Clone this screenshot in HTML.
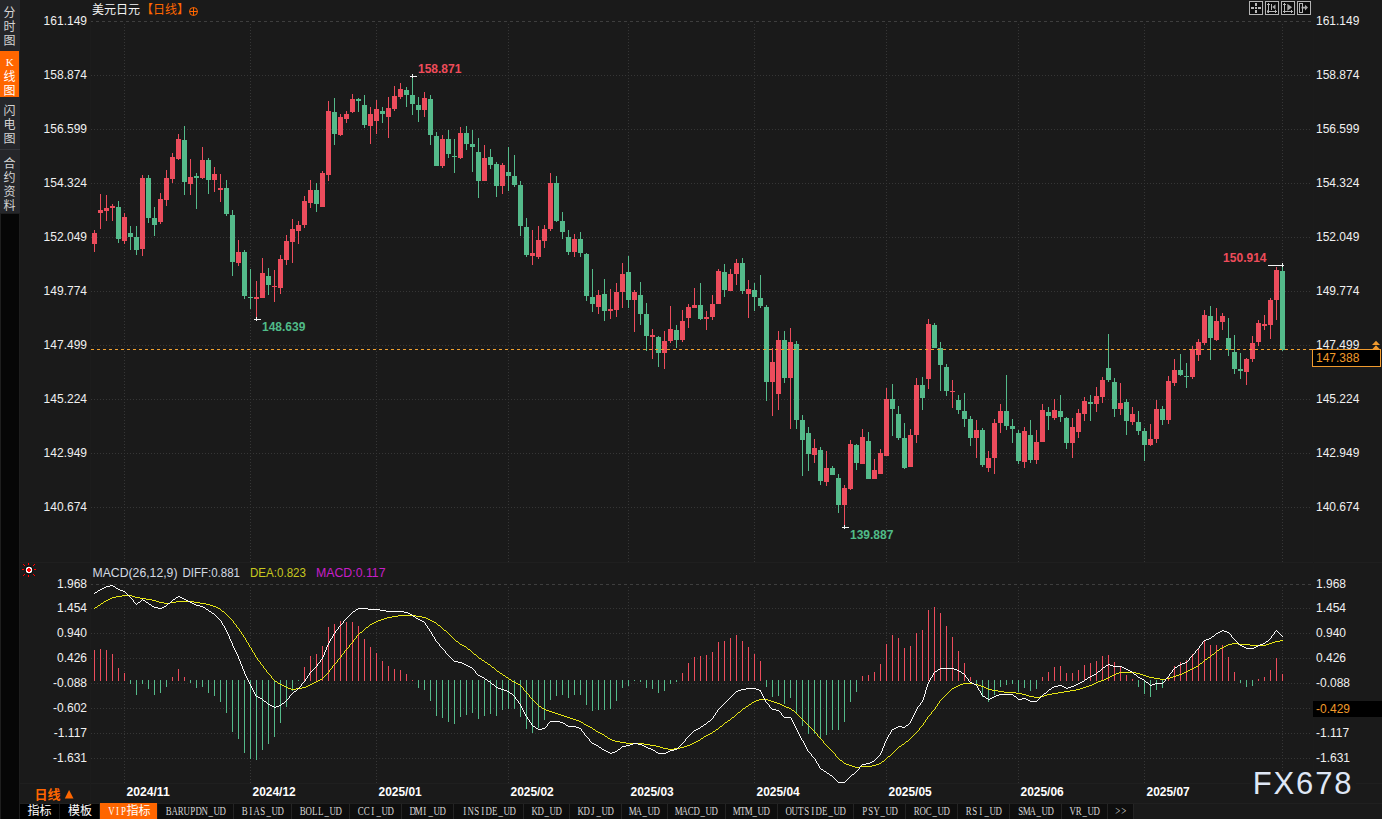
<!DOCTYPE html>
<html><head><meta charset="utf-8"><title>chart</title>
<style>html,body{margin:0;padding:0;background:#1a1a1a;}body{width:1382px;height:819px;overflow:hidden;font-family:"Liberation Sans",sans-serif;}</style>
</head><body>
<svg width="1382" height="819" viewBox="0 0 1382 819" style="display:block"><rect width="1382" height="819" fill="#1a1a1a"/><g shape-rendering="crispEdges"><rect x="0" y="0" width="20" height="213" fill="#25262a"/><rect x="0" y="213" width="20" height="606" fill="#1e1e1e"/><rect x="1" y="214" width="18" height="605" fill="#060606"/><rect x="0" y="51" width="19" height="46" fill="#ff6600"/><rect x="0" y="149" width="20" height="1" fill="#34353a"/></g><g font-size="12" fill="#d4d4d4" text-anchor="middle" style="font-family:&quot;Liberation Sans&quot;,&quot;Noto Sans CJK SC&quot;,sans-serif"><text x="9.5" y="17">分</text><text x="9.5" y="31">时</text><text x="9.5" y="45">图</text></g><g font-size="12" fill="#ffffff" text-anchor="middle" style="font-family:&quot;Liberation Sans&quot;,&quot;Noto Sans CJK SC&quot;,sans-serif"><text x="9.5" y="80.5">线</text><text x="9.5" y="94.5">图</text></g><text x="9.7" y="66" font-size="11" fill="#ffffff" text-anchor="middle" font-weight="normal" style="font-family:&quot;Liberation Serif&quot;" >K</text><g font-size="12" fill="#d4d4d4" text-anchor="middle" style="font-family:&quot;Liberation Sans&quot;,&quot;Noto Sans CJK SC&quot;,sans-serif"><text x="9.5" y="115">闪</text><text x="9.5" y="129">电</text><text x="9.5" y="143">图</text></g><g font-size="12" fill="#d4d4d4" text-anchor="middle" style="font-family:&quot;Liberation Sans&quot;,&quot;Noto Sans CJK SC&quot;,sans-serif"><text x="9.5" y="167.5">合</text><text x="9.5" y="181.5">约</text><text x="9.5" y="195.5">资</text><text x="9.5" y="209.5">料</text></g><text x="92" y="14" font-size="12" fill="#f4f4f4" text-anchor="start" style="font-family:&quot;Liberation Sans&quot;,&quot;Noto Sans CJK SC&quot;,sans-serif">美元日元</text><text x="141" y="14" font-size="12" fill="#ff6600" text-anchor="start" style="font-family:&quot;Liberation Sans&quot;,&quot;Noto Sans CJK SC&quot;,sans-serif">【日线】</text><g stroke="#ff6600" stroke-width="1" fill="none"><circle cx="193.5" cy="11.5" r="4"/><path d="M189.5 11.5H197.5M193.5 7.5V15.5"/></g><g stroke="#363636" stroke-width="1" shape-rendering="crispEdges" fill="none"><path stroke="#3e3e3e" stroke-dasharray="3 3" stroke-dashoffset="1" d="M91 21.5H1311"/><path stroke-dasharray="1 2" d="M91 75.5H1311"/><path stroke-dasharray="1 2" d="M91 129.5H1311"/><path stroke-dasharray="1 2" d="M91 183.5H1311"/><path stroke-dasharray="1 2" d="M91 237.5H1311"/><path stroke-dasharray="1 2" d="M91 291.5H1311"/><path stroke-dasharray="1 2" d="M91 345.5H1311"/><path stroke-dasharray="1 2" d="M91 399.5H1311"/><path stroke-dasharray="1 2" d="M91 453.5H1311"/><path stroke-dasharray="1 2" d="M91 507.5H1311"/><path stroke-dasharray="1 2" d="M124.5 24V562"/><path stroke-dasharray="1 2" d="M124.5 587V783"/><path stroke-dasharray="1 2" d="M250.5 24V562"/><path stroke-dasharray="1 2" d="M250.5 587V783"/><path stroke-dasharray="1 2" d="M376.5 24V562"/><path stroke-dasharray="1 2" d="M376.5 587V783"/><path stroke-dasharray="1 2" d="M508.5 24V562"/><path stroke-dasharray="1 2" d="M508.5 587V783"/><path stroke-dasharray="1 2" d="M628.5 24V562"/><path stroke-dasharray="1 2" d="M628.5 587V783"/><path stroke-dasharray="1 2" d="M754.5 24V562"/><path stroke-dasharray="1 2" d="M754.5 587V783"/><path stroke-dasharray="1 2" d="M886.5 24V562"/><path stroke-dasharray="1 2" d="M886.5 587V783"/><path stroke-dasharray="1 2" d="M1018.5 24V562"/><path stroke-dasharray="1 2" d="M1018.5 587V783"/><path stroke-dasharray="1 2" d="M1144.5 24V562"/><path stroke-dasharray="1 2" d="M1144.5 587V783"/><path stroke-dasharray="1 2" d="M1282.5 24V562"/><path stroke-dasharray="1 2" d="M1282.5 587V783"/><path stroke="#3e3e3e" stroke-dasharray="3 3" stroke-dashoffset="1" d="M91 584.5H1311"/><path stroke-dasharray="1 2" d="M91 608.5H1311"/><path stroke-dasharray="1 2" d="M91 633.5H1311"/><path stroke-dasharray="1 2" d="M91 658.5H1311"/><path stroke-dasharray="1 2" d="M91 683.5H1311"/><path stroke-dasharray="1 2" d="M91 708.5H1311"/><path stroke-dasharray="1 2" d="M91 733.5H1311"/><path stroke-dasharray="1 2" d="M91 758.5H1311"/></g><g shape-rendering="crispEdges" fill="#1f1f1f"><rect x="20" y="562" width="1362" height="1"/><rect x="20" y="783" width="1362" height="1"/><rect x="90" y="0" width="1" height="803" fill="#1c1c1c"/><rect x="1313" y="0" width="1" height="803" fill="#1b1b1b"/></g><text x="87" y="25.0" font-size="12" fill="#f0f0f0" text-anchor="end" font-weight="normal" style="font-family:&quot;Liberation Sans&quot;" >161.149</text><text x="1316" y="25.0" font-size="12" fill="#f0f0f0" text-anchor="start" font-weight="normal" style="font-family:&quot;Liberation Sans&quot;" >161.149</text><text x="87" y="79.0" font-size="12" fill="#f0f0f0" text-anchor="end" font-weight="normal" style="font-family:&quot;Liberation Sans&quot;" >158.874</text><text x="1316" y="79.0" font-size="12" fill="#f0f0f0" text-anchor="start" font-weight="normal" style="font-family:&quot;Liberation Sans&quot;" >158.874</text><text x="87" y="133.0" font-size="12" fill="#f0f0f0" text-anchor="end" font-weight="normal" style="font-family:&quot;Liberation Sans&quot;" >156.599</text><text x="1316" y="133.0" font-size="12" fill="#f0f0f0" text-anchor="start" font-weight="normal" style="font-family:&quot;Liberation Sans&quot;" >156.599</text><text x="87" y="187.0" font-size="12" fill="#f0f0f0" text-anchor="end" font-weight="normal" style="font-family:&quot;Liberation Sans&quot;" >154.324</text><text x="1316" y="187.0" font-size="12" fill="#f0f0f0" text-anchor="start" font-weight="normal" style="font-family:&quot;Liberation Sans&quot;" >154.324</text><text x="87" y="241.0" font-size="12" fill="#f0f0f0" text-anchor="end" font-weight="normal" style="font-family:&quot;Liberation Sans&quot;" >152.049</text><text x="1316" y="241.0" font-size="12" fill="#f0f0f0" text-anchor="start" font-weight="normal" style="font-family:&quot;Liberation Sans&quot;" >152.049</text><text x="87" y="295.0" font-size="12" fill="#f0f0f0" text-anchor="end" font-weight="normal" style="font-family:&quot;Liberation Sans&quot;" >149.774</text><text x="1316" y="295.0" font-size="12" fill="#f0f0f0" text-anchor="start" font-weight="normal" style="font-family:&quot;Liberation Sans&quot;" >149.774</text><text x="87" y="349.0" font-size="12" fill="#f0f0f0" text-anchor="end" font-weight="normal" style="font-family:&quot;Liberation Sans&quot;" >147.499</text><text x="1316" y="349.0" font-size="12" fill="#f0f0f0" text-anchor="start" font-weight="normal" style="font-family:&quot;Liberation Sans&quot;" >147.499</text><text x="87" y="403.0" font-size="12" fill="#f0f0f0" text-anchor="end" font-weight="normal" style="font-family:&quot;Liberation Sans&quot;" >145.224</text><text x="1316" y="403.0" font-size="12" fill="#f0f0f0" text-anchor="start" font-weight="normal" style="font-family:&quot;Liberation Sans&quot;" >145.224</text><text x="87" y="457.0" font-size="12" fill="#f0f0f0" text-anchor="end" font-weight="normal" style="font-family:&quot;Liberation Sans&quot;" >142.949</text><text x="1316" y="457.0" font-size="12" fill="#f0f0f0" text-anchor="start" font-weight="normal" style="font-family:&quot;Liberation Sans&quot;" >142.949</text><text x="87" y="511.0" font-size="12" fill="#f0f0f0" text-anchor="end" font-weight="normal" style="font-family:&quot;Liberation Sans&quot;" >140.674</text><text x="1316" y="511.0" font-size="12" fill="#f0f0f0" text-anchor="start" font-weight="normal" style="font-family:&quot;Liberation Sans&quot;" >140.674</text><text x="87" y="588.1" font-size="12" fill="#f0f0f0" text-anchor="end" font-weight="normal" style="font-family:&quot;Liberation Sans&quot;" >1.968</text><text x="1316" y="588.1" font-size="12" fill="#f0f0f0" text-anchor="start" font-weight="normal" style="font-family:&quot;Liberation Sans&quot;" >1.968</text><text x="87" y="612.1" font-size="12" fill="#f0f0f0" text-anchor="end" font-weight="normal" style="font-family:&quot;Liberation Sans&quot;" >1.454</text><text x="1316" y="612.1" font-size="12" fill="#f0f0f0" text-anchor="start" font-weight="normal" style="font-family:&quot;Liberation Sans&quot;" >1.454</text><text x="87" y="637.1" font-size="12" fill="#f0f0f0" text-anchor="end" font-weight="normal" style="font-family:&quot;Liberation Sans&quot;" >0.940</text><text x="1316" y="637.1" font-size="12" fill="#f0f0f0" text-anchor="start" font-weight="normal" style="font-family:&quot;Liberation Sans&quot;" >0.940</text><text x="87" y="662.1" font-size="12" fill="#f0f0f0" text-anchor="end" font-weight="normal" style="font-family:&quot;Liberation Sans&quot;" >0.426</text><text x="1316" y="662.1" font-size="12" fill="#f0f0f0" text-anchor="start" font-weight="normal" style="font-family:&quot;Liberation Sans&quot;" >0.426</text><text x="87" y="687.1" font-size="12" fill="#f0f0f0" text-anchor="end" font-weight="normal" style="font-family:&quot;Liberation Sans&quot;" >-0.088</text><text x="1316" y="687.1" font-size="12" fill="#f0f0f0" text-anchor="start" font-weight="normal" style="font-family:&quot;Liberation Sans&quot;" >-0.088</text><text x="87" y="712.1" font-size="12" fill="#f0f0f0" text-anchor="end" font-weight="normal" style="font-family:&quot;Liberation Sans&quot;" >-0.602</text><text x="87" y="737.1" font-size="12" fill="#f0f0f0" text-anchor="end" font-weight="normal" style="font-family:&quot;Liberation Sans&quot;" >-1.117</text><text x="1316" y="737.1" font-size="12" fill="#f0f0f0" text-anchor="start" font-weight="normal" style="font-family:&quot;Liberation Sans&quot;" >-1.117</text><text x="87" y="762.1" font-size="12" fill="#f0f0f0" text-anchor="end" font-weight="normal" style="font-family:&quot;Liberation Sans&quot;" >-1.631</text><text x="1316" y="762.1" font-size="12" fill="#f0f0f0" text-anchor="start" font-weight="normal" style="font-family:&quot;Liberation Sans&quot;" >-1.631</text><g shape-rendering="crispEdges"><path fill="#ec4c5c" d="M94 230h1v22h-1zM100 194h1v35h-1zM106 195h1v26h-1zM112 204h1v17h-1zM124 213h1v31h-1zM142 175h1v81h-1zM160 193h1v31h-1zM166 170h1v36h-1zM172 153h1v30h-1zM178 134h1v26h-1zM190 159h1v36h-1zM202 147h1v32h-1zM214 167h1v25h-1zM220 174h1v28h-1zM238 240h1v26h-1zM256 281h1v36h-1zM262 258h1v40h-1zM274 270h1v32h-1zM280 255h1v39h-1zM286 235h1v30h-1zM292 219h1v44h-1zM298 221h1v23h-1zM304 196h1v32h-1zM310 180h1v28h-1zM322 171h1v36h-1zM328 101h1v80h-1zM340 114h1v22h-1zM346 111h1v12h-1zM352 94h1v19h-1zM370 107h1v37h-1zM376 100h1v34h-1zM388 97h1v41h-1zM394 86h1v25h-1zM400 83h1v16h-1zM424 92h1v25h-1zM442 135h1v33h-1zM460 127h1v32h-1zM484 145h1v36h-1zM502 163h1v31h-1zM532 230h1v35h-1zM538 226h1v33h-1zM544 225h1v23h-1zM550 173h1v58h-1zM574 234h1v23h-1zM598 290h1v24h-1zM610 289h1v30h-1zM616 283h1v34h-1zM622 263h1v45h-1zM634 290h1v42h-1zM652 329h1v30h-1zM664 331h1v38h-1zM670 306h1v37h-1zM682 310h1v32h-1zM688 304h1v24h-1zM694 288h1v20h-1zM706 311h1v19h-1zM712 295h1v25h-1zM718 269h1v35h-1zM730 269h1v22h-1zM736 259h1v26h-1zM748 280h1v38h-1zM772 348h1v68h-1zM778 331h1v79h-1zM790 328h1v101h-1zM814 439h1v24h-1zM826 451h1v35h-1zM844 485h1v40h-1zM850 440h1v50h-1zM862 429h1v35h-1zM874 459h1v20h-1zM880 449h1v25h-1zM886 388h1v68h-1zM910 429h1v38h-1zM916 378h1v65h-1zM928 319h1v70h-1zM952 380h1v28h-1zM976 420h1v38h-1zM988 451h1v21h-1zM994 419h1v55h-1zM1000 404h1v29h-1zM1024 427h1v41h-1zM1036 430h1v34h-1zM1042 404h1v38h-1zM1054 399h1v21h-1zM1072 418h1v40h-1zM1078 409h1v29h-1zM1084 397h1v24h-1zM1096 387h1v25h-1zM1102 377h1v26h-1zM1120 383h1v32h-1zM1132 407h1v18h-1zM1150 424h1v22h-1zM1156 400h1v43h-1zM1168 376h1v48h-1zM1174 359h1v27h-1zM1192 346h1v33h-1zM1198 339h1v22h-1zM1204 310h1v35h-1zM1216 308h1v33h-1zM1222 313h1v17h-1zM1246 358h1v27h-1zM1252 336h1v26h-1zM1258 320h1v26h-1zM1264 315h1v15h-1zM1270 298h1v41h-1zM1276 267h1v53h-1zM92 233h5v11h-5zM98 210h5v3h-5zM104 208h5v3h-5zM110 206h5v2h-5zM122 217h5v24h-5zM140 178h5v71h-5zM158 199h5v23h-5zM164 178h5v22h-5zM170 157h5v22h-5zM176 139h5v20h-5zM188 177h5v7h-5zM200 160h5v18h-5zM212 174h5v6h-5zM218 188h5v2h-5zM236 252h5v11h-5zM254 297h5v2h-5zM260 273h5v25h-5zM272 286h5v1h-5zM278 259h5v29h-5zM284 241h5v19h-5zM290 229h5v13h-5zM296 225h5v6h-5zM302 201h5v24h-5zM308 190h5v13h-5zM320 173h5v34h-5zM326 111h5v64h-5zM338 117h5v18h-5zM344 114h5v5h-5zM350 99h5v13h-5zM368 114h5v12h-5zM374 109h5v12h-5zM386 108h5v9h-5zM392 96h5v13h-5zM398 89h5v8h-5zM422 98h5v12h-5zM440 139h5v27h-5zM458 133h5v25h-5zM482 158h5v23h-5zM500 165h5v21h-5zM530 253h5v3h-5zM536 240h5v17h-5zM542 229h5v12h-5zM548 183h5v46h-5zM572 239h5v13h-5zM596 295h5v12h-5zM608 309h5v2h-5zM614 292h5v18h-5zM620 274h5v18h-5zM632 292h5v8h-5zM650 335h5v2h-5zM662 341h5v12h-5zM668 329h5v12h-5zM680 321h5v19h-5zM686 307h5v11h-5zM692 305h5v3h-5zM704 317h5v2h-5zM710 304h5v13h-5zM716 271h5v33h-5zM728 274h5v17h-5zM734 263h5v11h-5zM746 289h5v5h-5zM770 362h5v20h-5zM776 340h5v54h-5zM788 342h5v36h-5zM812 448h5v7h-5zM824 468h5v14h-5zM842 488h5v17h-5zM848 444h5v45h-5zM860 437h5v27h-5zM872 470h5v9h-5zM878 453h5v21h-5zM884 399h5v57h-5zM908 435h5v32h-5zM914 385h5v50h-5zM926 324h5v55h-5zM950 391h5v1h-5zM974 430h5v8h-5zM986 458h5v10h-5zM992 423h5v35h-5zM998 411h5v12h-5zM1022 431h5v31h-5zM1034 442h5v18h-5zM1040 410h5v32h-5zM1052 410h5v8h-5zM1070 427h5v16h-5zM1076 413h5v19h-5zM1082 401h5v13h-5zM1094 396h5v8h-5zM1100 380h5v17h-5zM1118 403h5v6h-5zM1130 414h5v8h-5zM1148 439h5v6h-5zM1154 409h5v30h-5zM1166 381h5v39h-5zM1172 370h5v13h-5zM1190 349h5v28h-5zM1196 342h5v13h-5zM1202 315h5v28h-5zM1214 321h5v19h-5zM1220 316h5v6h-5zM1244 359h5v13h-5zM1250 343h5v16h-5zM1256 323h5v19h-5zM1262 324h5v2h-5zM1268 300h5v25h-5zM1274 270h5v30h-5z"/><path fill="#54ba8a" d="M118 201h1v42h-1zM130 226h1v24h-1zM136 226h1v29h-1zM148 175h1v48h-1zM154 207h1v29h-1zM184 126h1v69h-1zM196 173h1v36h-1zM208 158h1v36h-1zM226 180h1v36h-1zM232 210h1v66h-1zM244 250h1v49h-1zM250 269h1v40h-1zM268 268h1v27h-1zM316 183h1v29h-1zM334 98h1v47h-1zM358 98h1v14h-1zM364 95h1v33h-1zM382 107h1v16h-1zM406 87h1v20h-1zM412 78h1v37h-1zM418 97h1v25h-1zM430 95h1v50h-1zM436 132h1v34h-1zM448 130h1v28h-1zM454 139h1v34h-1zM466 126h1v24h-1zM472 130h1v42h-1zM478 138h1v60h-1zM490 149h1v20h-1zM496 162h1v35h-1zM508 147h1v44h-1zM514 155h1v32h-1zM520 181h1v55h-1zM526 218h1v39h-1zM556 176h1v46h-1zM562 212h1v27h-1zM568 230h1v25h-1zM580 232h1v25h-1zM586 253h1v48h-1zM592 269h1v43h-1zM604 279h1v42h-1zM628 256h1v52h-1zM640 282h1v43h-1zM646 303h1v48h-1zM658 336h1v31h-1zM676 325h1v23h-1zM700 283h1v37h-1zM724 264h1v33h-1zM742 258h1v36h-1zM754 283h1v28h-1zM760 275h1v33h-1zM766 305h1v96h-1zM784 331h1v52h-1zM796 341h1v88h-1zM802 415h1v61h-1zM808 427h1v44h-1zM820 447h1v38h-1zM832 466h1v9h-1zM838 474h1v39h-1zM856 444h1v26h-1zM868 432h1v47h-1zM892 384h1v52h-1zM898 406h1v34h-1zM904 423h1v46h-1zM922 377h1v33h-1zM934 323h1v25h-1zM940 342h1v49h-1zM946 364h1v32h-1zM958 395h1v19h-1zM964 393h1v34h-1zM970 416h1v30h-1zM982 428h1v39h-1zM1006 375h1v55h-1zM1012 419h1v24h-1zM1018 430h1v34h-1zM1030 420h1v43h-1zM1048 407h1v23h-1zM1060 395h1v27h-1zM1066 417h1v32h-1zM1090 395h1v26h-1zM1108 334h1v48h-1zM1114 378h1v39h-1zM1126 399h1v36h-1zM1138 411h1v24h-1zM1144 428h1v33h-1zM1162 406h1v19h-1zM1180 354h1v22h-1zM1186 363h1v25h-1zM1210 306h1v54h-1zM1228 318h1v38h-1zM1234 335h1v39h-1zM1240 353h1v26h-1zM1282 267h1v84h-1zM116 207h5v32h-5zM128 233h5v4h-5zM134 237h5v13h-5zM146 178h5v40h-5zM152 218h5v7h-5zM182 140h5v42h-5zM194 176h5v2h-5zM206 160h5v20h-5zM224 188h5v26h-5zM230 215h5v47h-5zM242 252h5v44h-5zM248 297h5v1h-5zM266 276h5v9h-5zM314 190h5v14h-5zM332 112h5v22h-5zM356 99h5v2h-5zM362 105h5v20h-5zM380 111h5v3h-5zM404 90h5v5h-5zM410 95h5v9h-5zM416 105h5v5h-5zM428 99h5v36h-5zM434 136h5v30h-5zM446 139h5v15h-5zM452 156h5v1h-5zM464 133h5v11h-5zM470 144h5v3h-5zM476 152h5v29h-5zM488 157h5v8h-5zM494 164h5v22h-5zM506 172h5v4h-5zM512 176h5v9h-5zM518 185h5v41h-5zM524 227h5v28h-5zM554 183h5v38h-5zM560 221h5v11h-5zM566 237h5v15h-5zM578 239h5v14h-5zM584 254h5v42h-5zM590 297h5v7h-5zM602 294h5v17h-5zM626 272h5v28h-5zM638 295h5v19h-5zM644 314h5v22h-5zM656 337h5v16h-5zM674 330h5v10h-5zM698 305h5v14h-5zM722 272h5v18h-5zM740 263h5v28h-5zM752 290h5v7h-5zM758 298h5v8h-5zM764 307h5v75h-5zM782 340h5v38h-5zM794 344h5v76h-5zM800 420h5v20h-5zM806 433h5v21h-5zM818 450h5v31h-5zM830 468h5v7h-5zM836 478h5v27h-5zM854 445h5v18h-5zM866 441h5v38h-5zM890 399h5v10h-5zM896 414h5v24h-5zM902 438h5v30h-5zM920 385h5v13h-5zM932 325h5v23h-5zM938 348h5v17h-5zM944 367h5v24h-5zM956 400h5v10h-5zM962 411h5v8h-5zM968 419h5v19h-5zM980 430h5v35h-5zM1004 411h5v15h-5zM1010 426h5v3h-5zM1016 433h5v28h-5zM1028 435h5v25h-5zM1046 412h5v4h-5zM1058 411h5v6h-5zM1064 418h5v25h-5zM1088 402h5v2h-5zM1106 368h5v12h-5zM1112 382h5v27h-5zM1124 402h5v19h-5zM1136 422h5v9h-5zM1142 431h5v14h-5zM1160 409h5v11h-5zM1178 370h5v5h-5zM1184 376h5v1h-5zM1208 316h5v22h-5zM1226 338h5v12h-5zM1232 352h5v17h-5zM1238 369h5v2h-5zM1280 271h5v79h-5z"/></g><g shape-rendering="crispEdges" fill="#f4f4f4"><rect x="410" y="76" width="7" height="1"/><rect x="412" y="74" width="1" height="4"/><rect x="254" y="319" width="7" height="1"/><rect x="256" y="317" width="1" height="4"/><rect x="842" y="527" width="7" height="1"/><rect x="844" y="525" width="1" height="4"/><rect x="1268" y="265" width="16" height="1"/><rect x="1282" y="263" width="1" height="4"/></g><text x="418" y="73" font-size="12" fill="#ee4c5a" text-anchor="start" font-weight="bold" style="font-family:&quot;Liberation Sans&quot;" >158.871</text><text x="262" y="330.7" font-size="12" fill="#50bc88" text-anchor="start" font-weight="bold" style="font-family:&quot;Liberation Sans&quot;" >148.639</text><text x="850" y="538.7" font-size="12" fill="#50bc88" text-anchor="start" font-weight="bold" style="font-family:&quot;Liberation Sans&quot;" >139.887</text><text x="1266.5" y="262" font-size="12" fill="#ee4c5a" text-anchor="end" font-weight="bold" style="font-family:&quot;Liberation Sans&quot;" >150.914</text><g shape-rendering="crispEdges"><path stroke="#f0a030" stroke-width="1" stroke-dasharray="3 3" fill="none" d="M91 349.5H1312"/><rect x="1312.5" y="349.5" width="68" height="17" fill="#000000" stroke="#f09a2e" stroke-width="1"/></g><text x="1316" y="361.7" font-size="12" fill="#f09a2a" text-anchor="start" font-weight="normal" style="font-family:&quot;Liberation Sans&quot;" >147.388</text><path fill="#f09a2e" d="M1372 349.5 L1376 345.3 L1380 349.5z M1372 345 L1376 340.8 L1380 345z"/><g shape-rendering="crispEdges"><path fill="#ec4c5c" d="M94 650h1v31h-1zM100 649h1v32h-1zM106 650h1v31h-1zM112 654h1v27h-1zM118 668h1v13h-1zM124 673h1v8h-1zM172 677h1v4h-1zM178 669h1v12h-1zM184 677h1v4h-1zM304 667h1v14h-1zM310 656h1v25h-1zM316 654h1v27h-1zM322 646h1v35h-1zM328 627h1v54h-1zM334 624h1v57h-1zM340 621h1v60h-1zM346 622h1v59h-1zM352 622h1v59h-1zM358 626h1v55h-1zM364 639h1v42h-1zM370 647h1v34h-1zM376 653h1v28h-1zM382 661h1v20h-1zM388 666h1v15h-1zM394 669h1v12h-1zM400 670h1v11h-1zM406 674h1v7h-1zM412 680h1v1h-1zM682 673h1v8h-1zM688 663h1v18h-1zM694 657h1v24h-1zM700 656h1v25h-1zM706 655h1v26h-1zM712 652h1v29h-1zM718 642h1v39h-1zM724 641h1v40h-1zM730 638h1v43h-1zM736 635h1v46h-1zM742 641h1v40h-1zM748 647h1v34h-1zM754 654h1v27h-1zM760 661h1v20h-1zM862 676h1v5h-1zM868 675h1v6h-1zM874 672h1v9h-1zM880 664h1v17h-1zM886 644h1v37h-1zM892 635h1v46h-1zM898 638h1v43h-1zM904 648h1v33h-1zM910 646h1v35h-1zM916 633h1v48h-1zM922 630h1v51h-1zM928 610h1v71h-1zM934 607h1v74h-1zM940 613h1v68h-1zM946 626h1v55h-1zM952 637h1v44h-1zM958 651h1v30h-1zM964 663h1v18h-1zM970 677h1v4h-1zM1042 677h1v4h-1zM1048 672h1v9h-1zM1054 667h1v14h-1zM1060 666h1v15h-1zM1066 673h1v8h-1zM1072 673h1v8h-1zM1078 670h1v11h-1zM1084 665h1v16h-1zM1090 663h1v18h-1zM1096 661h1v20h-1zM1102 656h1v25h-1zM1108 655h1v26h-1zM1114 662h1v19h-1zM1120 667h1v14h-1zM1126 675h1v6h-1zM1132 679h1v2h-1zM1168 677h1v4h-1zM1174 666h1v15h-1zM1180 662h1v19h-1zM1186 660h1v21h-1zM1192 654h1v27h-1zM1198 649h1v32h-1zM1204 641h1v40h-1zM1210 645h1v36h-1zM1216 645h1v36h-1zM1222 645h1v36h-1zM1228 657h1v24h-1zM1234 672h1v9h-1zM1258 679h1v2h-1zM1264 677h1v4h-1zM1270 670h1v11h-1zM1276 658h1v23h-1zM1282 674h1v7h-1z"/><path fill="#54ba8a" d="M130 680h1v4h-1zM136 680h1v15h-1zM142 680h1v4h-1zM148 680h1v9h-1zM154 680h1v15h-1zM160 680h1v13h-1zM166 680h1v7h-1zM190 680h1v3h-1zM196 680h1v8h-1zM202 680h1v7h-1zM208 680h1v13h-1zM214 680h1v16h-1zM220 680h1v22h-1zM226 680h1v33h-1zM232 680h1v52h-1zM238 680h1v59h-1zM244 680h1v73h-1zM250 680h1v79h-1zM256 680h1v80h-1zM262 680h1v70h-1zM268 680h1v64h-1zM274 680h1v57h-1zM280 680h1v43h-1zM286 680h1v27h-1zM292 680h1v11h-1zM298 680h1v1h-1zM418 680h1v8h-1zM424 680h1v10h-1zM430 680h1v21h-1zM436 680h1v36h-1zM442 680h1v38h-1zM448 680h1v42h-1zM454 680h1v44h-1zM460 680h1v37h-1zM466 680h1v35h-1zM472 680h1v33h-1zM478 680h1v39h-1zM484 680h1v36h-1zM490 680h1v34h-1zM496 680h1v36h-1zM502 680h1v30h-1zM508 680h1v29h-1zM514 680h1v29h-1zM520 680h1v37h-1zM526 680h1v49h-1zM532 680h1v53h-1zM538 680h1v48h-1zM544 680h1v40h-1zM550 680h1v20h-1zM556 680h1v16h-1zM562 680h1v15h-1zM568 680h1v18h-1zM574 680h1v15h-1zM580 680h1v15h-1zM586 680h1v25h-1zM592 680h1v31h-1zM598 680h1v30h-1zM604 680h1v30h-1zM610 680h1v29h-1zM616 680h1v21h-1zM622 680h1v8h-1zM628 680h1v6h-1zM634 680h1v1h-1zM640 680h1v2h-1zM646 680h1v8h-1zM652 680h1v9h-1zM658 680h1v13h-1zM664 680h1v11h-1zM670 680h1v4h-1zM676 680h1v2h-1zM766 680h1v7h-1zM772 680h1v17h-1zM778 680h1v16h-1zM784 680h1v24h-1zM790 680h1v18h-1zM796 680h1v33h-1zM802 680h1v46h-1zM808 680h1v54h-1zM814 680h1v54h-1zM820 680h1v58h-1zM826 680h1v55h-1zM832 680h1v50h-1zM838 680h1v50h-1zM844 680h1v42h-1zM850 680h1v22h-1zM856 680h1v12h-1zM976 680h1v4h-1zM982 680h1v17h-1zM988 680h1v22h-1zM994 680h1v15h-1zM1000 680h1v7h-1zM1006 680h1v5h-1zM1012 680h1v4h-1zM1018 680h1v12h-1zM1024 680h1v8h-1zM1030 680h1v11h-1zM1036 680h1v9h-1zM1138 680h1v7h-1zM1144 680h1v14h-1zM1150 680h1v17h-1zM1156 680h1v10h-1zM1162 680h1v8h-1zM1240 680h1v3h-1zM1246 680h1v7h-1zM1252 680h1v6h-1z"/></g><path fill="#e6e614" shape-rendering="crispEdges" d="M474 654h2v1h-2zM1212 654h2v1h-2zM598 732h2v1h-2zM1217 650h2v1h-2zM98 605h2v1h-2zM210 605h3v1h-3zM626 743h18v1h-18zM692 743h2v1h-2zM104 601h2v1h-2zM156 601h3v1h-3zM176 601h18v1h-18zM656 746h4v1h-4zM684 746h3v1h-3zM899 746h2v1h-2zM998 691h6v1h-6zM1064 691h6v1h-6zM378 620h3v1h-3zM430 620h2v1h-2zM280 684h2v1h-2zM310 684h2v1h-2zM518 684h2v1h-2zM960 684h3v1h-3zM974 684h4v1h-4zM1092 684h2v1h-2zM615 741h5v1h-5zM696 741h2v1h-2zM906 741h2v1h-2zM1004 692h12v1h-12zM1058 692h6v1h-6zM1016 693h6v1h-6zM1052 693h6v1h-6zM320 679h2v1h-2zM509 679h2v1h-2zM1104 679h2v1h-2zM1160 679h6v1h-6zM438 625h2v1h-2zM291 689h5v1h-5zM988 689h4v1h-4zM1076 689h4v1h-4zM605 736h2v1h-2zM704 736h2v1h-2zM852 766h3v1h-3zM860 766h12v1h-12zM561 715h3v1h-3zM284 686h2v1h-2zM306 686h2v1h-2zM956 686h2v1h-2zM981 686h3v1h-3zM1086 686h3v1h-3zM503 675h2v1h-2zM1112 675h2v1h-2zM1143 675h3v1h-3zM1176 675h3v1h-3zM1110 676h2v1h-2zM1146 676h3v1h-3zM1173 676h3v1h-3zM376 621h2v1h-2zM432 621h2v1h-2zM482 660h2v1h-2zM206 604h4v1h-4zM777 703h3v1h-3zM608 738h2v1h-2zM701 738h2v1h-2zM855 767h5v1h-5zM286 687h2v1h-2zM302 687h4v1h-4zM954 687h2v1h-2zM984 687h2v1h-2zM1083 687h3v1h-3zM278 683h2v1h-2zM312 683h2v1h-2zM516 683h2v1h-2zM963 683h11v1h-11zM1094 683h2v1h-2zM610 739h2v1h-2zM992 690h6v1h-6zM1070 690h6v1h-6zM460 644h2v1h-2zM1228 644h4v1h-4zM1238 644h12v1h-12zM1266 644h3v1h-3zM1106 678h2v1h-2zM1154 678h6v1h-6zM1166 678h4v1h-4zM1026 695h3v1h-3zM1044 695h3v1h-3zM600 733h2v1h-2zM710 733h2v1h-2zM1119 672h17v1h-17zM1184 672h2v1h-2zM398 615h18v1h-18zM1280 640h3v1h-3zM552 712h3v1h-3zM738 712h2v1h-2zM602 734h2v1h-2zM708 734h2v1h-2zM500 673h2v1h-2zM1116 673h3v1h-3zM1136 673h4v1h-4zM1182 673h2v1h-2zM759 699h9v1h-9zM101 603h2v1h-2zM164 603h6v1h-6zM200 603h6v1h-6zM1029 696h5v1h-5zM1040 696h4v1h-4zM108 599h2v1h-2zM146 599h6v1h-6zM122 595h10v1h-10zM387 617h5v1h-5zM422 617h4v1h-4zM366 627h2v1h-2zM849 765h3v1h-3zM872 765h4v1h-4zM564 716h3v1h-3zM576 720h3v1h-3zM728 720h2v1h-2zM593 729h2v1h-2zM716 729h2v1h-2zM650 745h6v1h-6zM687 745h3v1h-3zM506 677h2v1h-2zM1108 677h2v1h-2zM1149 677h5v1h-5zM1170 677h3v1h-3zM786 707h3v1h-3zM888 756h2v1h-2zM497 671h2v1h-2zM1186 671h2v1h-2zM1022 694h4v1h-4zM1047 694h5v1h-5zM1220 648h2v1h-2zM275 681h2v1h-2zM316 681h2v1h-2zM512 681h2v1h-2zM1098 681h3v1h-3zM542 708h2v1h-2zM743 708h2v1h-2zM789 708h2v1h-2zM1208 657h2v1h-2zM749 704h2v1h-2zM780 704h2v1h-2zM558 714h3v1h-3zM590 727h2v1h-2zM462 645h2v1h-2zM1226 645h2v1h-2zM1250 645h16v1h-16zM663 748h5v1h-5zM674 748h6v1h-6zM213 606h3v1h-3zM620 742h6v1h-6zM694 742h2v1h-2zM644 744h6v1h-6zM690 744h2v1h-2zM902 744h2v1h-2zM596 731h2v1h-2zM713 731h2v1h-2zM1232 643h6v1h-6zM1269 643h3v1h-3zM282 685h2v1h-2zM308 685h2v1h-2zM958 685h2v1h-2zM978 685h3v1h-3zM1089 685h3v1h-3zM488 664h2v1h-2zM1034 697h6v1h-6zM106 600h2v1h-2zM152 600h4v1h-4zM116 596h6v1h-6zM132 596h3v1h-3zM539 706h2v1h-2zM746 706h2v1h-2zM784 706h2v1h-2zM660 747h3v1h-3zM680 747h4v1h-4zM384 618h3v1h-3zM426 618h2v1h-2zM586 725h2v1h-2zM159 602h5v1h-5zM170 602h6v1h-6zM194 602h6v1h-6zM112 597h4v1h-4zM135 597h5v1h-5zM456 641h2v1h-2zM1275 641h5v1h-5zM392 616h6v1h-6zM416 616h6v1h-6zM570 718h3v1h-3zM579 721h2v1h-2zM756 700h3v1h-3zM768 700h3v1h-3zM544 709h2v1h-2zM95 607h2v1h-2zM216 607h2v1h-2zM588 726h2v1h-2zM720 726h2v1h-2zM110 598h2v1h-2zM140 598h6v1h-6zM754 701h2v1h-2zM771 701h3v1h-3zM1114 674h2v1h-2zM1140 674h3v1h-3zM1179 674h3v1h-3zM370 624h2v1h-2zM464 646h2v1h-2zM1224 646h2v1h-2zM1272 642h3v1h-3zM1222 647h2v1h-2zM444 630h2v1h-2zM485 662h2v1h-2zM492 667h2v1h-2zM1194 667h2v1h-2zM581 722h2v1h-2zM725 722h2v1h-2zM318 680h2v1h-2zM1101 680h3v1h-3zM1188 670h2v1h-2zM288 688h3v1h-3zM296 688h6v1h-6zM952 688h2v1h-2zM986 688h2v1h-2zM1080 688h3v1h-3zM479 658h2v1h-2zM668 749h6v1h-6zM846 764h3v1h-3zM876 764h3v1h-3zM360 632h2v1h-2zM314 682h2v1h-2zM514 682h2v1h-2zM1096 682h2v1h-2zM546 710h3v1h-3zM792 710h2v1h-2zM573 719h3v1h-3zM706 735h2v1h-2zM752 702h2v1h-2zM774 702h3v1h-3zM612 740h3v1h-3zM698 740h2v1h-2zM1192 668h2v1h-2zM381 619h3v1h-3zM428 619h2v1h-2zM555 713h3v1h-3zM1200 663h2v1h-2zM549 711h3v1h-3zM882 761h2v1h-2zM1205 659h2v1h-2zM782 705h2v1h-2zM468 649h2v1h-2zM1196 666h2v1h-2zM222 611h2v1h-2zM567 717h3v1h-3zM732 717h2v1h-2zM844 763h2v1h-2zM879 763h2v1h-2zM218 608h2v1h-2zM584 724h2v1h-2zM374 622h2v1h-2zM434 622h2v1h-2zM1190 669h2v1h-2zM840 760h2v1h-2zM372 623h2v1h-2zM254 653h1v2h-1zM342 654h1v1h-1zM712 732h1v1h-1zM815 732h1v1h-1zM916 732h1v1h-1zM252 650h1v2h-1zM345 650h1v1h-1zM470 650h1v1h-1zM238 628h1v1h-1zM365 628h1v1h-1zM442 628h1v1h-1zM824 743h1v1h-1zM904 743h1v1h-1zM827 746h1v1h-1zM525 691h1v1h-1zM949 691h1v1h-1zM232 620h1v1h-1zM823 741h1v2h-1zM526 692h1v1h-1zM948 692h1v1h-1zM527 693h1v1h-1zM947 693h1v1h-1zM273 679h1v1h-1zM236 625h1v2h-1zM369 625h1v1h-1zM523 688h1v2h-1zM951 689h1v1h-1zM818 736h1v1h-1zM912 736h1v1h-1zM735 715h1v1h-1zM798 715h1v1h-1zM929 715h1v1h-1zM242 634h1v1h-1zM358 634h1v1h-1zM449 634h1v1h-1zM521 686h1v1h-1zM270 675h1v1h-1zM325 675h1v1h-1zM271 676h1v2h-1zM324 676h1v1h-1zM505 676h1v1h-1zM233 621h1v2h-1zM343 653h1v1h-1zM473 653h1v1h-1zM1214 653h1v1h-1zM258 660h1v1h-1zM337 660h1v2h-1zM1204 660h1v1h-1zM100 604h1v1h-1zM368 626h1v1h-1zM440 626h1v1h-1zM536 703h1v1h-1zM751 703h1v1h-1zM938 703h1v1h-1zM820 738h1v1h-1zM910 738h1v1h-1zM522 687h1v1h-1zM700 739h1v1h-1zM821 739h1v1h-1zM909 739h1v1h-1zM524 690h1v1h-1zM950 690h1v1h-1zM248 643h1v2h-1zM350 644h1v1h-1zM240 631h1v1h-1zM362 631h1v1h-1zM446 631h1v1h-1zM272 678h1v1h-1zM322 678h1v1h-1zM508 678h1v1h-1zM529 695h1v2h-1zM945 695h1v1h-1zM816 733h1v1h-1zM915 733h1v1h-1zM267 672h1v1h-1zM328 672h1v1h-1zM499 672h1v1h-1zM227 615h1v1h-1zM833 752h1v1h-1zM893 752h1v1h-1zM246 640h1v2h-1zM353 640h1v2h-1zM455 640h1v1h-1zM795 712h1v1h-1zM931 712h1v2h-1zM817 734h1v2h-1zM914 734h1v1h-1zM268 673h1v1h-1zM327 673h1v1h-1zM532 699h1v1h-1zM941 699h1v1h-1zM944 696h1v1h-1zM229 617h1v1h-1zM237 627h1v1h-1zM441 627h1v1h-1zM734 716h1v1h-1zM799 716h1v1h-1zM928 716h1v1h-1zM803 720h1v1h-1zM925 720h1v2h-1zM812 729h1v1h-1zM919 728h1v2h-1zM826 745h1v1h-1zM901 745h1v1h-1zM323 677h1v1h-1zM835 754h1v2h-1zM890 755h1v1h-1zM541 707h1v1h-1zM745 707h1v1h-1zM935 707h1v2h-1zM836 756h1v1h-1zM266 670h1v2h-1zM329 670h1v2h-1zM528 694h1v1h-1zM946 694h1v1h-1zM251 648h1v2h-1zM347 648h1v1h-1zM467 648h1v1h-1zM256 657h1v1h-1zM340 657h1v1h-1zM478 657h1v1h-1zM537 704h1v1h-1zM937 704h1v2h-1zM837 757h1v1h-1zM887 757h1v1h-1zM736 714h1v1h-1zM797 714h1v1h-1zM930 714h1v1h-1zM719 727h1v1h-1zM810 727h1v1h-1zM920 727h1v1h-1zM249 645h1v2h-1zM349 645h1v2h-1zM221 610h1v1h-1zM829 748h1v1h-1zM897 748h1v1h-1zM97 606h1v1h-1zM905 742h1v1h-1zM825 744h1v1h-1zM814 731h1v1h-1zM917 731h1v1h-1zM351 643h1v1h-1zM459 643h1v1h-1zM520 685h1v1h-1zM261 664h1v1h-1zM334 664h1v1h-1zM1199 664h1v1h-1zM530 697h1v1h-1zM943 697h1v1h-1zM936 706h1v1h-1zM828 747h1v1h-1zM898 747h1v1h-1zM230 618h1v1h-1zM722 725h1v1h-1zM808 725h1v1h-1zM922 725h1v1h-1zM103 602h1v1h-1zM255 655h1v2h-1zM341 655h1v2h-1zM477 656h1v1h-1zM1210 656h1v1h-1zM228 616h1v1h-1zM731 718h1v1h-1zM801 718h1v1h-1zM927 717h1v2h-1zM727 721h1v1h-1zM804 721h1v1h-1zM533 700h1v1h-1zM940 700h1v1h-1zM742 709h1v1h-1zM791 709h1v1h-1zM934 709h1v1h-1zM809 726h1v1h-1zM921 726h1v1h-1zM534 701h1v1h-1zM939 701h1v2h-1zM269 674h1v1h-1zM326 674h1v1h-1zM502 674h1v1h-1zM235 624h1v1h-1zM437 624h1v1h-1zM247 642h1v1h-1zM352 642h1v1h-1zM458 642h1v1h-1zM250 647h1v1h-1zM348 647h1v1h-1zM466 647h1v1h-1zM262 665h1v1h-1zM333 665h1v1h-1zM490 665h1v1h-1zM1198 665h1v1h-1zM595 730h1v1h-1zM715 730h1v1h-1zM813 730h1v1h-1zM918 730h1v1h-1zM259 661h1v1h-1zM484 661h1v1h-1zM1203 661h1v1h-1zM239 629h1v2h-1zM363 630h1v1h-1zM260 662h1v2h-1zM336 662h1v1h-1zM1202 662h1v1h-1zM241 632h1v2h-1zM359 633h1v1h-1zM448 633h1v1h-1zM263 666h1v2h-1zM332 666h1v2h-1zM805 722h1v1h-1zM924 722h1v1h-1zM274 680h1v1h-1zM511 680h1v1h-1zM496 670h1v1h-1zM253 652h1v1h-1zM344 651h1v2h-1zM472 652h1v1h-1zM1215 652h1v1h-1zM257 658h1v2h-1zM339 658h1v1h-1zM1207 658h1v1h-1zM830 749h1v1h-1zM896 749h1v1h-1zM447 632h1v1h-1zM277 682h1v1h-1zM476 655h1v1h-1zM1211 655h1v1h-1zM364 629h1v1h-1zM443 629h1v1h-1zM741 710h1v1h-1zM933 710h1v1h-1zM730 719h1v1h-1zM802 719h1v1h-1zM926 719h1v1h-1zM604 735h1v1h-1zM913 735h1v1h-1zM535 702h1v1h-1zM583 723h1v1h-1zM724 723h1v1h-1zM806 723h1v1h-1zM923 723h1v2h-1zM822 740h1v1h-1zM908 740h1v1h-1zM834 753h1v1h-1zM892 753h1v1h-1zM264 668h1v1h-1zM331 668h1v1h-1zM494 668h1v1h-1zM607 737h1v1h-1zM703 737h1v1h-1zM819 737h1v1h-1zM911 737h1v1h-1zM843 762h1v1h-1zM881 762h1v1h-1zM231 619h1v1h-1zM471 651h1v1h-1zM1216 651h1v1h-1zM245 638h1v2h-1zM354 639h1v1h-1zM454 639h1v1h-1zM737 713h1v1h-1zM796 713h1v1h-1zM891 754h1v1h-1zM335 663h1v1h-1zM487 663h1v1h-1zM355 638h1v1h-1zM453 638h1v1h-1zM740 711h1v1h-1zM794 711h1v1h-1zM932 711h1v1h-1zM842 761h1v1h-1zM338 659h1v1h-1zM481 659h1v1h-1zM538 705h1v1h-1zM748 705h1v1h-1zM346 649h1v1h-1zM1219 649h1v1h-1zM838 758h1v1h-1zM886 758h1v1h-1zM491 666h1v1h-1zM531 698h1v1h-1zM942 698h1v1h-1zM800 717h1v1h-1zM94 608h1v1h-1zM723 724h1v1h-1zM807 724h1v1h-1zM243 635h1v2h-1zM357 635h1v1h-1zM450 635h1v1h-1zM265 669h1v1h-1zM330 669h1v1h-1zM495 669h1v1h-1zM356 636h1v2h-1zM451 636h1v1h-1zM244 637h1v1h-1zM452 637h1v1h-1zM832 751h1v1h-1zM894 751h1v1h-1zM839 759h1v1h-1zM885 759h1v1h-1zM884 760h1v1h-1zM224 612h1v1h-1zM234 623h1v1h-1zM436 623h1v1h-1zM831 750h1v1h-1zM895 750h1v1h-1zM592 728h1v1h-1zM718 728h1v1h-1zM811 728h1v1h-1zM220 609h1v1h-1zM225 613h1v1h-1zM226 614h1v1h-1z"/><path fill="#fafafa" shape-rendering="crispEdges" d="M536 728h2v1h-2zM542 728h3v1h-3zM579 728h2v1h-2zM698 728h2v1h-2zM894 728h2v1h-2zM852 774h2v1h-2zM1212 636h2v1h-2zM784 717h7v1h-7zM106 586h4v1h-4zM113 586h2v1h-2zM464 664h2v1h-2zM1108 664h2v1h-2zM1180 664h2v1h-2zM1218 632h2v1h-2zM1227 632h2v1h-2zM533 726h2v1h-2zM568 726h8v1h-8zM701 726h2v1h-2zM898 726h4v1h-4zM488 681h2v1h-2zM1082 681h2v1h-2zM212 613h2v1h-2zM408 613h2v1h-2zM504 690h3v1h-3zM738 690h3v1h-3zM759 690h2v1h-2zM480 676h2v1h-2zM1090 676h2v1h-2zM152 606h2v1h-2zM164 606h2v1h-2zM200 606h3v1h-3zM999 694h14v1h-14zM496 687h2v1h-2zM1052 687h2v1h-2zM1064 687h2v1h-2zM1068 687h3v1h-3zM158 608h4v1h-4zM358 608h10v1h-10zM272 706h2v1h-2zM276 706h3v1h-3zM470 667h2v1h-2zM1103 667h2v1h-2zM1122 667h2v1h-2zM1175 667h2v1h-2zM260 698h2v1h-2zM986 698h2v1h-2zM990 698h2v1h-2zM1022 698h4v1h-4zM492 684h2v1h-2zM974 684h2v1h-2zM1076 684h2v1h-2zM1152 684h3v1h-3zM258 697h2v1h-2zM992 697h2v1h-2zM1054 686h4v1h-4zM1062 686h2v1h-2zM1071 686h3v1h-3zM1222 630h2v1h-2zM482 677h2v1h-2zM1088 677h2v1h-2zM1138 677h2v1h-2zM827 773h2v1h-2zM282 703h2v1h-2zM462 663h2v1h-2zM1182 663h3v1h-3zM776 710h3v1h-3zM100 589h2v1h-2zM118 589h2v1h-2zM110 585h3v1h-3zM1028 700h2v1h-2zM566 725h2v1h-2zM906 725h2v1h-2zM1260 644h3v1h-3zM498 688h3v1h-3zM746 688h10v1h-10zM1066 688h2v1h-2zM1242 646h2v1h-2zM1256 646h2v1h-2zM563 723h2v1h-2zM458 662h4v1h-4zM1185 662h2v1h-2zM206 609h2v1h-2zM356 609h2v1h-2zM368 609h12v1h-12zM1206 639h3v1h-3zM1204 640h2v1h-2zM264 701h2v1h-2zM1030 701h7v1h-7zM538 729h4v1h-4zM696 729h2v1h-2zM892 729h2v1h-2zM940 668h14v1h-14zM1124 668h2v1h-2zM176 597h2v1h-2zM180 597h2v1h-2zM604 750h2v1h-2zM653 750h2v1h-2zM670 750h4v1h-4zM610 753h2v1h-2zM658 753h8v1h-8zM602 749h2v1h-2zM618 749h2v1h-2zM651 749h2v1h-2zM674 749h3v1h-3zM596 745h2v1h-2zM626 745h4v1h-4zM642 745h2v1h-2zM935 671h2v1h-2zM959 671h2v1h-2zM1098 671h2v1h-2zM1130 671h2v1h-2zM594 744h2v1h-2zM630 744h3v1h-3zM638 744h4v1h-4zM454 661h4v1h-4zM256 696h2v1h-2zM983 696h2v1h-2zM994 696h2v1h-2zM1014 696h2v1h-2zM380 610h6v1h-6zM510 693h2v1h-2zM1044 693h2v1h-2zM996 695h3v1h-3zM957 670h2v1h-2zM1128 670h2v1h-2zM168 603h2v1h-2zM192 603h2v1h-2zM501 689h3v1h-3zM741 689h5v1h-5zM756 689h3v1h-3zM1049 689h2v1h-2zM972 683h2v1h-2zM1078 683h2v1h-2zM1155 683h8v1h-8zM1240 645h2v1h-2zM1258 645h2v1h-2zM270 705h2v1h-2zM279 705h2v1h-2zM143 600h2v1h-2zM186 600h2v1h-2zM178 596h2v1h-2zM268 704h2v1h-2zM872 761h2v1h-2zM592 743h2v1h-2zM633 743h5v1h-5zM988 699h2v1h-2zM1018 699h4v1h-4zM1026 699h2v1h-2zM970 682h2v1h-2zM1080 682h2v1h-2zM1146 682h2v1h-2zM1216 633h2v1h-2zM599 747h2v1h-2zM646 747h2v1h-2zM485 679h2v1h-2zM1085 679h2v1h-2zM1142 679h2v1h-2zM824 771h2v1h-2zM560 722h3v1h-3zM1094 674h2v1h-2zM1134 674h2v1h-2zM962 673h2v1h-2zM772 709h4v1h-4zM294 691h2v1h-2zM507 691h2v1h-2zM736 691h2v1h-2zM422 621h2v1h-2zM608 752h2v1h-2zM612 752h3v1h-3zM656 752h2v1h-2zM666 752h2v1h-2zM182 598h2v1h-2zM410 614h2v1h-2zM209 611h2v1h-2zM353 611h2v1h-2zM386 611h18v1h-18zM1058 685h4v1h-4zM1074 685h2v1h-2zM1150 685h2v1h-2zM1246 648h8v1h-8zM938 669h2v1h-2zM954 669h3v1h-3zM1126 669h2v1h-2zM550 721h10v1h-10zM708 721h2v1h-2zM98 590h2v1h-2zM120 590h3v1h-3zM274 707h2v1h-2zM154 607h4v1h-4zM162 607h2v1h-2zM203 607h2v1h-2zM576 727h3v1h-3zM896 727h2v1h-2zM902 727h3v1h-3zM1140 678h2v1h-2zM188 601h2v1h-2zM622 746h4v1h-4zM644 746h2v1h-2zM866 763h4v1h-4zM478 675h2v1h-2zM1092 675h2v1h-2zM1266 641h2v1h-2zM648 748h3v1h-3zM466 665h2v1h-2zM1106 665h2v1h-2zM1110 665h3v1h-3zM1178 665h2v1h-2zM468 666h2v1h-2zM1113 666h9v1h-9zM420 620h2v1h-2zM694 730h2v1h-2zM1220 631h2v1h-2zM1224 631h3v1h-3zM1263 643h2v1h-2zM1209 638h2v1h-2zM870 762h2v1h-2zM704 724h2v1h-2zM606 751h2v1h-2zM615 751h2v1h-2zM668 751h2v1h-2zM1244 647h2v1h-2zM1254 647h2v1h-2zM196 605h4v1h-4zM149 604h2v1h-2zM194 604h2v1h-2zM138 602h2v1h-2zM146 602h2v1h-2zM190 602h2v1h-2zM123 591h2v1h-2zM173 599h2v1h-2zM184 599h2v1h-2zM418 619h2v1h-2zM404 612h4v1h-4zM413 616h2v1h-2zM416 618h2v1h-2zM838 782h7v1h-7zM104 587h2v1h-2zM830 775h2v1h-2zM821 769h2v1h-2zM95 592h2v1h-2zM862 764h4v1h-4zM102 588h2v1h-2zM116 588h2v1h-2zM796 728h1v2h-1zM829 774h1v1h-1zM229 636h1v3h-1zM332 636h1v2h-1zM433 636h1v1h-1zM1231 635h1v2h-1zM1271 636h1v2h-1zM1282 636h1v1h-1zM239 659h1v2h-1zM321 659h1v1h-1zM452 659h1v1h-1zM1189 658h1v2h-1zM527 717h1v2h-1zM713 716h1v2h-1zM912 717h1v2h-1zM241 664h1v2h-1zM317 664h1v2h-1zM227 632h1v2h-1zM335 631h1v2h-1zM431 632h1v2h-1zM1274 632h1v2h-1zM1278 632h1v1h-1zM546 726h1v1h-1zM795 726h1v2h-1zM905 726h1v1h-1zM248 680h1v2h-1zM304 681h1v1h-1zM929 680h1v2h-1zM969 681h1v1h-1zM1145 681h1v1h-1zM1164 681h1v1h-1zM351 613h1v1h-1zM253 690h1v2h-1zM296 690h1v1h-1zM925 690h1v4h-1zM979 690h1v1h-1zM1048 690h1v1h-1zM246 676h1v2h-1zM307 676h1v2h-1zM932 675h1v2h-1zM965 675h1v2h-1zM1137 676h1v1h-1zM1168 676h1v1h-1zM255 694h1v2h-1zM291 694h1v1h-1zM512 694h1v1h-1zM733 694h1v1h-1zM762 694h1v2h-1zM924 694h1v3h-1zM981 693h1v2h-1zM1043 694h1v1h-1zM251 686h1v2h-1zM299 687h1v1h-1zM926 687h1v3h-1zM977 686h1v2h-1zM205 608h1v1h-1zM521 706h1v2h-1zM721 706h1v1h-1zM769 705h1v2h-1zM918 706h1v1h-1zM242 666h1v3h-1zM315 667h1v1h-1zM288 698h1v1h-1zM515 697h1v2h-1zM729 698h1v1h-1zM764 698h1v2h-1zM923 697h1v3h-1zM1017 698h1v1h-1zM1039 698h1v1h-1zM819 766h1v2h-1zM859 767h1v2h-1zM221 621h1v2h-1zM343 621h1v2h-1zM424 622h1v1h-1zM250 684h1v2h-1zM301 684h1v2h-1zM927 684h1v3h-1zM1149 684h1v1h-1zM289 696h1v2h-1zM730 697h1v1h-1zM763 696h1v2h-1zM985 697h1v1h-1zM1016 697h1v1h-1zM1040 697h1v1h-1zM300 686h1v1h-1zM495 686h1v1h-1zM226 630h1v2h-1zM336 630h1v1h-1zM429 629h1v2h-1zM1276 630h1v1h-1zM931 677h1v1h-1zM966 677h1v1h-1zM1167 677h1v1h-1zM854 773h1v1h-1zM267 703h1v1h-1zM519 703h1v1h-1zM724 703h1v1h-1zM767 703h1v1h-1zM920 703h1v2h-1zM225 628h1v2h-1zM338 627h1v2h-1zM428 628h1v1h-1zM240 661h1v3h-1zM318 663h1v1h-1zM523 710h1v2h-1zM717 710h1v2h-1zM916 709h1v2h-1zM583 732h1v1h-1zM692 732h1v1h-1zM798 732h1v2h-1zM890 732h1v2h-1zM263 700h1v1h-1zM286 700h1v1h-1zM517 700h1v1h-1zM727 700h1v1h-1zM765 700h1v2h-1zM922 700h1v2h-1zM1037 700h1v1h-1zM589 739h1v2h-1zM685 739h1v2h-1zM802 740h1v1h-1zM886 739h1v2h-1zM532 725h1v1h-1zM547 724h1v2h-1zM703 725h1v1h-1zM794 724h1v2h-1zM232 643h1v3h-1zM328 643h1v2h-1zM439 644h1v2h-1zM1201 644h1v1h-1zM1239 644h1v1h-1zM252 688h1v2h-1zM298 688h1v1h-1zM978 688h1v2h-1zM1051 688h1v1h-1zM235 650h1v2h-1zM325 650h1v2h-1zM444 650h1v1h-1zM1196 650h1v1h-1zM233 646h1v2h-1zM327 645h1v2h-1zM440 646h1v1h-1zM1199 646h1v2h-1zM584 733h1v2h-1zM690 734h1v1h-1zM799 734h1v2h-1zM889 734h1v1h-1zM531 723h1v2h-1zM548 723h1v1h-1zM706 723h1v1h-1zM793 722h1v2h-1zM909 723h1v1h-1zM228 634h1v2h-1zM333 634h1v2h-1zM432 634h1v2h-1zM1215 634h1v1h-1zM1230 634h1v1h-1zM1273 634h1v1h-1zM1280 634h1v1h-1zM319 662h1v1h-1zM230 639h1v2h-1zM330 639h1v2h-1zM435 639h1v2h-1zM1234 639h1v1h-1zM1269 639h1v1h-1zM1235 640h1v1h-1zM1268 640h1v1h-1zM586 736h1v1h-1zM688 736h1v1h-1zM800 736h1v2h-1zM888 735h1v2h-1zM528 719h1v1h-1zM711 719h1v1h-1zM791 718h1v2h-1zM911 719h1v2h-1zM285 701h1v1h-1zM518 701h1v2h-1zM726 701h1v1h-1zM581 729h1v2h-1zM314 668h1v1h-1zM472 668h1v1h-1zM1102 668h1v1h-1zM1174 668h1v1h-1zM130 597h1v1h-1zM617 750h1v1h-1zM807 749h1v2h-1zM882 748h1v3h-1zM238 656h1v3h-1zM322 657h1v2h-1zM450 657h1v1h-1zM1190 657h1v1h-1zM810 753h1v1h-1zM880 753h1v2h-1zM526 716h1v1h-1zM783 716h1v1h-1zM913 715h1v2h-1zM529 720h1v2h-1zM710 720h1v1h-1zM792 720h1v2h-1zM237 654h1v2h-1zM323 655h1v2h-1zM448 655h1v1h-1zM1192 655h1v1h-1zM680 745h1v1h-1zM805 745h1v2h-1zM884 743h1v3h-1zM244 671h1v3h-1zM311 671h1v1h-1zM475 671h1v2h-1zM1172 670h1v2h-1zM681 744h1v1h-1zM804 743h1v2h-1zM320 660h1v2h-1zM1187 661h1v1h-1zM514 696h1v1h-1zM731 696h1v1h-1zM1041 696h1v1h-1zM590 741h1v1h-1zM684 741h1v1h-1zM803 741h1v2h-1zM885 741h1v2h-1zM812 756h1v1h-1zM878 756h1v1h-1zM208 610h1v1h-1zM355 610h1v1h-1zM254 692h1v2h-1zM292 693h1v1h-1zM734 693h1v1h-1zM761 692h1v2h-1zM290 695h1v1h-1zM513 695h1v1h-1zM732 695h1v1h-1zM982 695h1v1h-1zM1013 695h1v1h-1zM1042 695h1v1h-1zM243 669h1v2h-1zM312 670h1v1h-1zM474 670h1v1h-1zM937 670h1v1h-1zM1100 670h1v1h-1zM135 603h1v1h-1zM137 603h1v1h-1zM148 603h1v1h-1zM297 689h1v1h-1zM249 682h1v2h-1zM302 683h1v1h-1zM491 683h1v1h-1zM928 682h1v2h-1zM1148 683h1v1h-1zM1200 645h1v1h-1zM520 704h1v2h-1zM722 705h1v1h-1zM919 705h1v1h-1zM133 600h1v2h-1zM141 600h1v1h-1zM172 600h1v1h-1zM129 596h1v1h-1zM445 651h1v2h-1zM1195 651h1v2h-1zM234 648h1v2h-1zM326 647h1v3h-1zM443 649h1v1h-1zM1197 649h1v1h-1zM582 731h1v1h-1zM693 731h1v1h-1zM797 730h1v2h-1zM891 730h1v2h-1zM281 704h1v1h-1zM723 704h1v1h-1zM768 704h1v1h-1zM236 652h1v2h-1zM324 652h1v3h-1zM446 653h1v1h-1zM1194 653h1v1h-1zM816 761h1v2h-1zM833 777h1v1h-1zM849 777h1v1h-1zM682 743h1v1h-1zM262 699h1v1h-1zM287 699h1v1h-1zM516 699h1v1h-1zM728 699h1v1h-1zM1038 699h1v1h-1zM303 682h1v1h-1zM490 682h1v1h-1zM1163 682h1v1h-1zM334 633h1v1h-1zM1229 633h1v1h-1zM1279 633h1v1h-1zM621 747h1v1h-1zM678 747h1v1h-1zM806 747h1v2h-1zM883 746h1v2h-1zM247 678h1v2h-1zM305 679h1v2h-1zM930 678h1v2h-1zM968 679h1v2h-1zM1165 679h1v2h-1zM856 771h1v1h-1zM487 680h1v1h-1zM1084 680h1v1h-1zM1144 680h1v1h-1zM530 722h1v1h-1zM549 722h1v1h-1zM707 722h1v1h-1zM910 721h1v2h-1zM245 674h1v2h-1zM309 673h1v2h-1zM477 674h1v1h-1zM933 673h1v2h-1zM964 674h1v1h-1zM1169 674h1v2h-1zM476 673h1v1h-1zM1096 673h1v1h-1zM1133 673h1v1h-1zM1170 673h1v1h-1zM522 708h1v2h-1zM718 709h1v1h-1zM266 702h1v1h-1zM284 702h1v1h-1zM725 702h1v1h-1zM766 702h1v1h-1zM921 702h1v1h-1zM453 660h1v1h-1zM1188 660h1v1h-1zM760 691h1v1h-1zM980 691h1v2h-1zM1047 691h1v1h-1zM337 629h1v1h-1zM293 692h1v1h-1zM509 692h1v1h-1zM735 692h1v1h-1zM1046 692h1v1h-1zM809 752h1v1h-1zM881 751h1v2h-1zM131 598h1v1h-1zM175 598h1v1h-1zM214 614h1v1h-1zM350 614h1v1h-1zM588 738h1v1h-1zM686 738h1v1h-1zM801 738h1v2h-1zM887 737h1v2h-1zM524 712h1v2h-1zM716 712h1v1h-1zM780 712h1v1h-1zM915 711h1v2h-1zM494 685h1v1h-1zM976 685h1v1h-1zM442 648h1v1h-1zM1198 648h1v1h-1zM313 669h1v1h-1zM473 669h1v1h-1zM1101 669h1v1h-1zM1173 669h1v1h-1zM720 707h1v1h-1zM770 707h1v1h-1zM917 707h1v2h-1zM525 714h1v2h-1zM715 713h1v2h-1zM781 713h1v2h-1zM914 713h1v2h-1zM535 727h1v1h-1zM545 727h1v1h-1zM700 727h1v1h-1zM306 678h1v1h-1zM484 678h1v1h-1zM967 678h1v1h-1zM1087 678h1v1h-1zM1166 678h1v1h-1zM231 641h1v2h-1zM329 641h1v2h-1zM437 642h1v1h-1zM1202 642h1v2h-1zM1237 642h1v1h-1zM1265 642h1v1h-1zM140 601h1v1h-1zM145 601h1v1h-1zM171 601h1v1h-1zM449 656h1v1h-1zM1191 656h1v1h-1zM598 746h1v1h-1zM679 746h1v1h-1zM817 763h1v1h-1zM308 675h1v1h-1zM1136 675h1v1h-1zM691 733h1v1h-1zM811 754h1v2h-1zM436 641h1v1h-1zM1203 641h1v1h-1zM1236 641h1v1h-1zM601 748h1v1h-1zM620 748h1v1h-1zM677 748h1v1h-1zM813 757h1v1h-1zM877 757h1v1h-1zM1214 635h1v1h-1zM1272 635h1v1h-1zM1281 635h1v1h-1zM837 781h1v1h-1zM845 781h1v1h-1zM316 666h1v1h-1zM1105 666h1v1h-1zM1177 666h1v1h-1zM860 766h1v1h-1zM220 620h1v1h-1zM344 620h1v1h-1zM310 672h1v1h-1zM934 672h1v1h-1zM961 672h1v1h-1zM1097 672h1v1h-1zM1132 672h1v1h-1zM1171 672h1v1h-1zM712 718h1v1h-1zM714 715h1v1h-1zM782 715h1v1h-1zM587 737h1v1h-1zM687 737h1v1h-1zM879 755h1v1h-1zM430 631h1v1h-1zM1275 631h1v1h-1zM1277 631h1v1h-1zM820 768h1v1h-1zM438 643h1v1h-1zM1238 643h1v1h-1zM434 637h1v2h-1zM1211 637h1v1h-1zM1232 637h1v1h-1zM331 638h1v1h-1zM1233 638h1v1h-1zM1270 638h1v1h-1zM585 735h1v1h-1zM689 735h1v1h-1zM217 617h1v1h-1zM347 617h1v1h-1zM415 617h1v1h-1zM451 658h1v1h-1zM591 742h1v1h-1zM683 742h1v1h-1zM565 724h1v1h-1zM908 724h1v1h-1zM719 708h1v1h-1zM771 708h1v1h-1zM655 751h1v1h-1zM808 751h1v1h-1zM441 647h1v1h-1zM818 764h1v2h-1zM861 765h1v1h-1zM151 605h1v1h-1zM166 605h1v1h-1zM447 654h1v1h-1zM1193 654h1v1h-1zM814 758h1v1h-1zM876 758h1v1h-1zM136 604h1v1h-1zM167 604h1v1h-1zM134 602h1v1h-1zM170 602h1v1h-1zM815 759h1v2h-1zM874 760h1v1h-1zM97 591h1v1h-1zM132 599h1v1h-1zM142 599h1v1h-1zM219 619h1v1h-1zM345 619h1v1h-1zM211 612h1v1h-1zM352 612h1v1h-1zM216 616h1v1h-1zM348 616h1v1h-1zM836 780h1v1h-1zM846 780h1v1h-1zM215 615h1v1h-1zM349 615h1v1h-1zM412 615h1v1h-1zM875 759h1v1h-1zM218 618h1v1h-1zM346 618h1v1h-1zM222 623h1v2h-1zM341 624h1v1h-1zM425 623h1v2h-1zM826 772h1v1h-1zM855 772h1v1h-1zM94 593h1v1h-1zM126 593h1v1h-1zM779 711h1v1h-1zM223 625h1v1h-1zM340 625h1v1h-1zM426 625h1v1h-1zM115 587h1v1h-1zM851 775h1v1h-1zM858 769h1v1h-1zM342 623h1v1h-1zM224 626h1v2h-1zM339 626h1v1h-1zM427 626h1v2h-1zM125 592h1v1h-1zM823 770h1v1h-1zM857 770h1v1h-1zM127 594h1v1h-1zM128 595h1v1h-1zM832 776h1v1h-1zM850 776h1v1h-1zM835 779h1v1h-1zM847 779h1v1h-1zM834 778h1v1h-1zM848 778h1v1h-1z"/><text x="92.5" y="576.5" font-size="12" fill="#d4dae4" text-anchor="start" font-weight="normal" style="font-family:&quot;Liberation Sans&quot;" textLength="85" lengthAdjust="spacingAndGlyphs">MACD(26,12,9)</text><text x="182.5" y="576.5" font-size="12" fill="#d4dae4" text-anchor="start" font-weight="normal" style="font-family:&quot;Liberation Sans&quot;" textLength="57.5" lengthAdjust="spacingAndGlyphs">DIFF:0.881</text><text x="250" y="576.5" font-size="12" fill="#c8c81e" text-anchor="start" font-weight="normal" style="font-family:&quot;Liberation Sans&quot;" textLength="56" lengthAdjust="spacingAndGlyphs">DEA:0.823</text><text x="316" y="576.5" font-size="12" fill="#c81ec8" text-anchor="start" font-weight="normal" style="font-family:&quot;Liberation Sans&quot;" textLength="69.5" lengthAdjust="spacingAndGlyphs">MACD:0.117</text><rect x="1313" y="701" width="69" height="16" fill="#000000" shape-rendering="crispEdges"/><text x="1316" y="712.8" font-size="12" fill="#f09a2a" text-anchor="start" font-weight="normal" style="font-family:&quot;Liberation Sans&quot;" >-0.429</text><circle cx="29" cy="570" r="4.2" fill="#000000"/><circle cx="29" cy="570" r="3.2" fill="#ffffff"/><g fill="#ff0000" shape-rendering="crispEdges"><rect x="27" y="569" width="4" height="2"/><rect x="28" y="568" width="2" height="4"/><rect x="28" y="563" width="1" height="2"/><rect x="28" y="575" width="1" height="2"/><rect x="22" y="569" width="2" height="1"/><rect x="34" y="569" width="2" height="1"/><rect x="23" y="564" width="1" height="1"/><rect x="24" y="565" width="1" height="1"/><rect x="34" y="564" width="1" height="1"/><rect x="33" y="565" width="1" height="1"/><rect x="23" y="575" width="1" height="1"/><rect x="24" y="574" width="1" height="1"/><rect x="34" y="575" width="1" height="1"/><rect x="33" y="574" width="1" height="1"/></g><text x="126.5" y="796" font-size="12" fill="#ffffff" text-anchor="start" font-weight="bold" style="font-family:&quot;Liberation Sans&quot;" textLength="43.2" lengthAdjust="spacingAndGlyphs">2024/11</text><text x="252.5" y="796" font-size="12" fill="#ffffff" text-anchor="start" font-weight="bold" style="font-family:&quot;Liberation Sans&quot;" textLength="43.2" lengthAdjust="spacingAndGlyphs">2024/12</text><text x="378.5" y="796" font-size="12" fill="#ffffff" text-anchor="start" font-weight="bold" style="font-family:&quot;Liberation Sans&quot;" textLength="43.2" lengthAdjust="spacingAndGlyphs">2025/01</text><text x="510.5" y="796" font-size="12" fill="#ffffff" text-anchor="start" font-weight="bold" style="font-family:&quot;Liberation Sans&quot;" textLength="43.2" lengthAdjust="spacingAndGlyphs">2025/02</text><text x="630.5" y="796" font-size="12" fill="#ffffff" text-anchor="start" font-weight="bold" style="font-family:&quot;Liberation Sans&quot;" textLength="43.2" lengthAdjust="spacingAndGlyphs">2025/03</text><text x="756.5" y="796" font-size="12" fill="#ffffff" text-anchor="start" font-weight="bold" style="font-family:&quot;Liberation Sans&quot;" textLength="43.2" lengthAdjust="spacingAndGlyphs">2025/04</text><text x="888.5" y="796" font-size="12" fill="#ffffff" text-anchor="start" font-weight="bold" style="font-family:&quot;Liberation Sans&quot;" textLength="43.2" lengthAdjust="spacingAndGlyphs">2025/05</text><text x="1020.5" y="796" font-size="12" fill="#ffffff" text-anchor="start" font-weight="bold" style="font-family:&quot;Liberation Sans&quot;" textLength="43.2" lengthAdjust="spacingAndGlyphs">2025/06</text><text x="1146.5" y="796" font-size="12" fill="#ffffff" text-anchor="start" font-weight="bold" style="font-family:&quot;Liberation Sans&quot;" textLength="43.2" lengthAdjust="spacingAndGlyphs">2025/07</text><text x="34.5" y="798.5" font-size="13" fill="#ff6600" text-anchor="start" font-weight="bold" style="font-family:&quot;Liberation Sans&quot;,&quot;Noto Sans CJK SC&quot;,sans-serif">日线</text><path fill="#ff6600" d="M64.8 798.5 L69.1 790 L73.5 798.5z"/><g shape-rendering="crispEdges"><rect x="20" y="803" width="1362" height="1" fill="#202020"/><rect x="20" y="804" width="39" height="15" fill="#000000"/><rect x="60" y="804" width="39" height="15" fill="#000000"/><rect x="100" y="803" width="57" height="16" fill="#ff6600"/><rect x="158" y="804" width="75" height="15" fill="#0e0e0e"/><rect x="233" y="804" width="1" height="15" fill="#242424"/><rect x="234" y="804" width="57" height="15" fill="#0e0e0e"/><rect x="291" y="804" width="1" height="15" fill="#242424"/><rect x="292" y="804" width="57" height="15" fill="#0e0e0e"/><rect x="349" y="804" width="1" height="15" fill="#242424"/><rect x="350" y="804" width="51" height="15" fill="#0e0e0e"/><rect x="401" y="804" width="1" height="15" fill="#242424"/><rect x="402" y="804" width="51" height="15" fill="#0e0e0e"/><rect x="453" y="804" width="1" height="15" fill="#242424"/><rect x="454" y="804" width="69" height="15" fill="#0e0e0e"/><rect x="523" y="804" width="1" height="15" fill="#242424"/><rect x="524" y="804" width="45" height="15" fill="#0e0e0e"/><rect x="569" y="804" width="1" height="15" fill="#242424"/><rect x="570" y="804" width="51" height="15" fill="#0e0e0e"/><rect x="621" y="804" width="1" height="15" fill="#242424"/><rect x="622" y="804" width="45" height="15" fill="#0e0e0e"/><rect x="667" y="804" width="1" height="15" fill="#242424"/><rect x="668" y="804" width="57" height="15" fill="#0e0e0e"/><rect x="725" y="804" width="1" height="15" fill="#242424"/><rect x="726" y="804" width="51" height="15" fill="#0e0e0e"/><rect x="777" y="804" width="1" height="15" fill="#242424"/><rect x="778" y="804" width="75" height="15" fill="#0e0e0e"/><rect x="853" y="804" width="1" height="15" fill="#242424"/><rect x="854" y="804" width="51" height="15" fill="#0e0e0e"/><rect x="905" y="804" width="1" height="15" fill="#242424"/><rect x="906" y="804" width="51" height="15" fill="#0e0e0e"/><rect x="957" y="804" width="1" height="15" fill="#242424"/><rect x="958" y="804" width="51" height="15" fill="#0e0e0e"/><rect x="1009" y="804" width="1" height="15" fill="#242424"/><rect x="1010" y="804" width="51" height="15" fill="#0e0e0e"/><rect x="1061" y="804" width="1" height="15" fill="#242424"/><rect x="1062" y="804" width="45" height="15" fill="#0e0e0e"/><rect x="1107" y="804" width="1" height="15" fill="#242424"/><rect x="1108" y="804" width="25" height="15" fill="#0e0e0e"/><rect x="1133" y="804" width="1" height="15" fill="#242424"/></g><text transform="scale(0.74,1)" x="228.11 236.22 244.32 252.43 260.54 268.65 276.76 284.86 292.97 301.08" y="815" font-size="12" fill="#d6d6d6" text-anchor="middle" style="font-family:&quot;Liberation Serif&quot;">BARUPDN_UD</text><text transform="scale(0.74,1)" x="330.81 338.92 347.03 355.14 363.24 371.35 379.46" y="815" font-size="12" fill="#d6d6d6" text-anchor="middle" style="font-family:&quot;Liberation Serif&quot;">BIAS_UD</text><text transform="scale(0.74,1)" x="409.19 417.30 425.41 433.51 441.62 449.73 457.84" y="815" font-size="12" fill="#d6d6d6" text-anchor="middle" style="font-family:&quot;Liberation Serif&quot;">BOLL_UD</text><text transform="scale(0.74,1)" x="487.57 495.68 503.78 511.89 520.00 528.11" y="815" font-size="12" fill="#d6d6d6" text-anchor="middle" style="font-family:&quot;Liberation Serif&quot;">CCI_UD</text><text transform="scale(0.74,1)" x="557.84 565.95 574.05 582.16 590.27 598.38" y="815" font-size="12" fill="#d6d6d6" text-anchor="middle" style="font-family:&quot;Liberation Serif&quot;">DMI_UD</text><text transform="scale(0.74,1)" x="628.11 636.22 644.32 652.43 660.54 668.65 676.76 684.86 692.97" y="815" font-size="12" fill="#d6d6d6" text-anchor="middle" style="font-family:&quot;Liberation Serif&quot;">INSIDE_UD</text><text transform="scale(0.74,1)" x="722.70 730.81 738.92 747.03 755.14" y="815" font-size="12" fill="#d6d6d6" text-anchor="middle" style="font-family:&quot;Liberation Serif&quot;">KD_UD</text><text transform="scale(0.74,1)" x="784.86 792.97 801.08 809.19 817.30 825.41" y="815" font-size="12" fill="#d6d6d6" text-anchor="middle" style="font-family:&quot;Liberation Serif&quot;">KDJ_UD</text><text transform="scale(0.74,1)" x="855.14 863.24 871.35 879.46 887.57" y="815" font-size="12" fill="#d6d6d6" text-anchor="middle" style="font-family:&quot;Liberation Serif&quot;">MA_UD</text><text transform="scale(0.74,1)" x="917.30 925.41 933.51 941.62 949.73 957.84 965.95" y="815" font-size="12" fill="#d6d6d6" text-anchor="middle" style="font-family:&quot;Liberation Serif&quot;">MACD_UD</text><text transform="scale(0.74,1)" x="995.68 1003.78 1011.89 1020.00 1028.11 1036.22" y="815" font-size="12" fill="#d6d6d6" text-anchor="middle" style="font-family:&quot;Liberation Serif&quot;">MTM_UD</text><text transform="scale(0.74,1)" x="1065.95 1074.05 1082.16 1090.27 1098.38 1106.49 1114.59 1122.70 1130.81 1138.92" y="815" font-size="12" fill="#d6d6d6" text-anchor="middle" style="font-family:&quot;Liberation Serif&quot;">OUTSIDE_UD</text><text transform="scale(0.74,1)" x="1168.65 1176.76 1184.86 1192.97 1201.08 1209.19" y="815" font-size="12" fill="#d6d6d6" text-anchor="middle" style="font-family:&quot;Liberation Serif&quot;">PSY_UD</text><text transform="scale(0.74,1)" x="1238.92 1247.03 1255.14 1263.24 1271.35 1279.46" y="815" font-size="12" fill="#d6d6d6" text-anchor="middle" style="font-family:&quot;Liberation Serif&quot;">ROC_UD</text><text transform="scale(0.74,1)" x="1309.19 1317.30 1325.41 1333.51 1341.62 1349.73" y="815" font-size="12" fill="#d6d6d6" text-anchor="middle" style="font-family:&quot;Liberation Serif&quot;">RSI_UD</text><text transform="scale(0.74,1)" x="1379.46 1387.57 1395.68 1403.78 1411.89 1420.00" y="815" font-size="12" fill="#d6d6d6" text-anchor="middle" style="font-family:&quot;Liberation Serif&quot;">SMA_UD</text><text transform="scale(0.74,1)" x="1449.73 1457.84 1465.95 1474.05 1482.16" y="815" font-size="12" fill="#d6d6d6" text-anchor="middle" style="font-family:&quot;Liberation Serif&quot;">VR_UD</text><text transform="scale(0.74,1)" x="1510.54 1518.65" y="815" font-size="12" fill="#d6d6d6" text-anchor="middle" style="font-family:&quot;Liberation Serif&quot;">&gt;&gt;</text><text x="27.5" y="815" font-size="12" fill="#ffffff" text-anchor="start" style="font-family:&quot;Liberation Sans&quot;,&quot;Noto Sans CJK SC&quot;,sans-serif">指标</text><text x="68" y="815" font-size="12" fill="#ffffff" text-anchor="start" style="font-family:&quot;Liberation Sans&quot;,&quot;Noto Sans CJK SC&quot;,sans-serif">模板</text><text transform="scale(0.74,1)" x="150.68 158.78 166.89" y="815" font-size="12" fill="#ffffff" text-anchor="middle" style="font-family:&quot;Liberation Serif&quot;">VIP</text><text x="126.5" y="815" font-size="12" fill="#ffffff" text-anchor="start" style="font-family:&quot;Liberation Sans&quot;,&quot;Noto Sans CJK SC&quot;,sans-serif">指标</text><rect x="1250" y="772" width="106" height="30" fill="#1a1a1a"/><text x="1252.8" y="793.8" font-size="31" fill="#dfe7f5" text-anchor="start" font-weight="normal" style="font-family:&quot;Liberation Sans&quot;" letter-spacing="1.85">FX678</text><g stroke="#b4b4b4" stroke-width="1" fill="#0c0c0c" shape-rendering="crispEdges"><rect x="1249.5" y="1.5" width="13" height="13"/><rect x="1265.5" y="1.5" width="13" height="13"/><rect x="1281.5" y="1.5" width="13" height="13"/><rect x="1297.5" y="1.5" width="13" height="13"/></g><g fill="#b8b8b8" shape-rendering="crispEdges"><rect x="1251" y="7" width="3" height="2"/><rect x="1258" y="7" width="3" height="2"/><rect x="1255" y="3" width="2" height="3"/><rect x="1255" y="10" width="2" height="3"/><rect x="1255" y="7" width="2" height="2"/><rect x="1268" y="3" width="1" height="10"/><rect x="1267" y="11" width="10" height="1"/><rect x="1267" y="4" width="3" height="1"/><rect x="1275" y="10" width="1" height="3"/><rect x="1267" y="10" width="1" height="3" opacity="0.6"/><rect x="1271" y="4" width="1" height="6"/></g><g fill="#a8a8a8"><path d="M1275.5 4.2v5.6l-3.2-2.8z"/><path d="M1287.3 3.8v7l4.8-3.5z"/><path d="M1308 7.6l-3-2.8v1.9h-3.5v1.8h3.5v1.9z"/></g><g fill="#b8b8b8" shape-rendering="crispEdges"><rect x="1284" y="3" width="1" height="10"/><rect x="1283" y="11" width="10" height="1"/><rect x="1283" y="4" width="3" height="1"/><rect x="1291" y="10" width="1" height="3"/><rect x="1299" y="3" width="4" height="1"/><rect x="1299" y="12" width="4" height="1"/><rect x="1299" y="3" width="1" height="10"/><rect x="1302" y="3" width="1" height="10"/></g></svg>
</body></html>
